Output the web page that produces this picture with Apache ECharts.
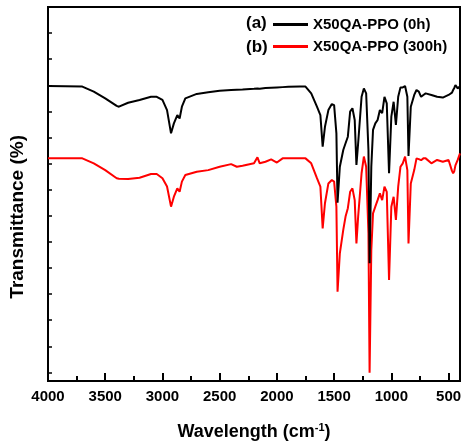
<!DOCTYPE html>
<html>
<head>
<meta charset="UTF-8">
<title>FTIR</title>
<script src="https://cdn.jsdelivr.net/npm/echarts@6/dist/echarts.min.js"></script>
<style>
  html, body { margin: 0; padding: 0; background: #fff; }
  #main { width: 461px; height: 442px; }
</style>
</head>
<body>
<div id="main"></div>
<script>
// wavenumbers (cm-1)
var waveNumbers = [4000, 3700, 3600, 3500, 3400, 3380, 3300, 3200, 3100, 3050, 3000, 2960, 2925, 2900, 2870, 2850, 2830, 2800, 2700, 2600, 2500, 2400, 2350, 2300, 2200, 2170, 2150, 2100, 2050, 2000, 1950, 1900, 1800, 1750, 1700, 1650, 1620, 1600, 1580, 1550, 1520, 1500, 1480, 1470, 1450, 1420, 1400, 1380, 1360, 1340, 1320, 1305, 1290, 1260, 1240, 1220, 1200, 1190, 1175, 1160, 1140, 1120, 1100, 1080, 1060, 1040, 1020, 1000, 980, 960, 940, 920, 900, 880, 860, 850, 830, 800, 780, 760, 740, 720, 700, 650, 600, 550, 500, 470, 460, 450, 440, 420, 400];
// (a) X50QA-PPO (0h)
var trans0h = [113.0, 112.8, 110.9, 108.3, 105.4, 105.1, 106.6, 107.7, 108.9, 108.9, 107.7, 103.8, 94.9, 98.7, 101.9, 100.6, 105.1, 108.3, 110.0, 110.6, 111.2, 111.5, 111.6, 111.7, 112.0, 112.1, 112.0, 112.3, 112.4, 112.5, 112.6, 112.7, 112.8, 112.8, 110.2, 105.1, 101.9, 89.8, 97.4, 103.8, 106.1, 105.7, 94.9, 68.3, 82.1, 88.5, 91.1, 93.6, 103.2, 104.5, 100.0, 82.8, 91.1, 108.9, 112.1, 110.2, 88.5, 45.1, 82.1, 96.2, 98.7, 100.0, 103.8, 102.6, 108.9, 106.4, 79.6, 101.3, 107.0, 98.1, 108.9, 112.5, 112.5, 113.0, 108.9, 86.2, 105.1, 109.6, 111.5, 110.9, 108.9, 109.6, 110.2, 109.6, 108.9, 108.6, 109.6, 110.5, 111.5, 112.3, 113.4, 112.1, 113.0];
// (b) X50QA-PPO (300h)
var trans300h = [85.3, 85.3, 83.4, 80.8, 77.7, 77.5, 77.4, 77.9, 79.3, 79.3, 77.7, 74.5, 66.8, 70.6, 73.8, 72.5, 76.4, 78.9, 80.2, 80.8, 82.1, 83.1, 82.1, 82.5, 83.4, 85.7, 83.4, 84.0, 84.9, 83.7, 85.3, 85.3, 85.3, 85.3, 83.4, 77.7, 74.5, 58.5, 68.1, 75.7, 77.0, 76.4, 66.8, 34.2, 48.9, 57.9, 63.0, 66.2, 72.5, 73.8, 69.3, 52.7, 63.0, 79.6, 86.0, 82.1, 56.6, 3.2, 50.2, 64.2, 66.8, 69.3, 71.9, 69.3, 74.5, 72.5, 38.7, 66.8, 70.6, 61.7, 74.5, 82.1, 83.4, 86.0, 80.8, 52.7, 75.7, 80.8, 85.3, 85.0, 84.6, 85.3, 85.3, 83.4, 84.7, 84.0, 84.7, 80.5, 79.6, 80.4, 82.6, 84.7, 87.2];
var tickLabels = [500, 1000, 1500, 2000, 2500, 3000, 3500, 4000];
var seriesNames = ['X50QA-PPO (0h)', 'X50QA-PPO (300h)'];

function pairs(xs, ys) {
  var out = [];
  for (var i = 0; i < xs.length; i++) out.push([xs[i], ys[i]]);
  return out;
}

var FONT = 'Liberation Sans, Arial, sans-serif';
var yMax = 143.3;
// plot frame: 400..4000 cm-1 over 412 px
var plotBox = { left: 48, right: 1, top: 7, bottom: 61, outerBoundsMode: 'none', containLabel: false };
// same scale stretched to 0..4000 so tick marks count from 0 (the extra part is off the canvas)
var tickBox = { left: 48, right: 1 - 400 * 412 / 3600, top: 7, bottom: 61, outerBoundsMode: 'none', containLabel: false, show: false };

var myChart = echarts.init(document.getElementById('main'));
var option = {
  animation: false,
  grid: [
    Object.assign({ show: true, borderColor: '#000', borderWidth: 2 }, plotBox),
    Object.assign({}, tickBox),
    Object.assign({}, tickBox)
  ],
  legend: {
    data: seriesNames,
    orient: 'vertical',
    left: 273,
    top: 17,
    padding: 0,
    itemWidth: 35,
    itemHeight: 3,
    itemGap: 7,
    icon: 'rect',
    textStyle: { fontFamily: FONT, fontWeight: 'bold', fontSize: 15, color: '#000' }
  },
  xAxis: [{
    gridIndex: 0,
    type: 'value',
    inverse: true,
    min: 400,
    max: 4000,
    splitLine: { show: false },
    axisLine: { onZero: false, lineStyle: { color: '#000', width: 2 } },
    axisTick: { show: false },
    axisLabel: {
      customValues: tickLabels, margin: 8, fontFamily: FONT, fontWeight: 'bold', fontSize: 15, color: '#000',
      formatter: function(value) { return String(value); }
    },
    name: '{t|Wavelength (cm}{s|-1}{t|)}',
    nameLocation: 'middle',
    nameGap: 41,
    nameTextStyle: {
      rich: {
        t: { fontFamily: FONT, fontWeight: 'bold', fontSize: 18, color: '#000' },
        s: { fontFamily: FONT, fontWeight: 'bold', fontSize: 11, color: '#000', verticalAlign: 'top', padding: [0, 0, 9, 0] }
      }
    }
  }, {
    // major ticks
    gridIndex: 1,
    type: 'value',
    inverse: true,
    position: 'bottom',
    min: 0,
    max: 4000,
    interval: 500,
    splitLine: { show: false },
    axisLine: { show: false, onZero: false },
    axisTick: { inside: true, length: 8, lineStyle: { color: '#000', width: 2 } },
    axisLabel: { show: false }
  }, {
    // minor ticks
    gridIndex: 2,
    type: 'value',
    inverse: true,
    position: 'bottom',
    min: 0,
    max: 4000,
    interval: 250,
    splitLine: { show: false },
    axisLine: { show: false, onZero: false },
    axisTick: { inside: true, length: 5, lineStyle: { color: '#000', width: 2 } },
    axisLabel: { show: false }
  }],
  yAxis: [{
    gridIndex: 0,
    type: 'value',
    min: 0,
    max: yMax,
    splitLine: { show: false },
    axisLine: { onZero: false, lineStyle: { color: '#000', width: 2 } },
    axisTick: { show: false },
    axisLabel: { show: false }
  }, {
    // tick marks run from the top of the frame
    gridIndex: 1,
    type: 'value',
    inverse: true,
    position: 'left',
    min: 0,
    max: yMax,
    interval: 10,
    splitLine: { show: false },
    axisLine: { show: false, onZero: false },
    axisTick: { inside: true, length: 4, lineStyle: { color: '#000', width: 1.5 } },
    axisLabel: { show: false }
  }, {
    gridIndex: 2,
    type: 'value',
    min: 0,
    max: yMax,
    show: false
  }],
  graphic: [
    { type: 'text', left: 8, top: 135, rotation: Math.PI / 2, style: { text: 'Transmittance (%)', font: 'bold 19px ' + FONT, fill: '#000' } },
    { type: 'text', left: 246, top: 15, style: { text: '(a)', font: 'bold 17px ' + FONT, fill: '#000' } },
    { type: 'text', left: 246, top: 39, style: { text: '(b)', font: 'bold 17px ' + FONT, fill: '#000' } }
  ],
  series: [{
    name: seriesNames[1],
    type: 'line',
    symbol: 'none',
    xAxisIndex: 0,
    yAxisIndex: 0,
    lineStyle: { color: '#ff0000', width: 2 },
    itemStyle: { color: '#ff0000' },
    data: pairs(waveNumbers, trans300h)
  }, {
    name: seriesNames[0],
    type: 'line',
    symbol: 'none',
    xAxisIndex: 0,
    yAxisIndex: 0,
    lineStyle: { color: '#000', width: 2 },
    itemStyle: { color: '#000' },
    data: pairs(waveNumbers, trans0h)
  }]
};
myChart.setOption(option);
</script>
</body>
</html>
